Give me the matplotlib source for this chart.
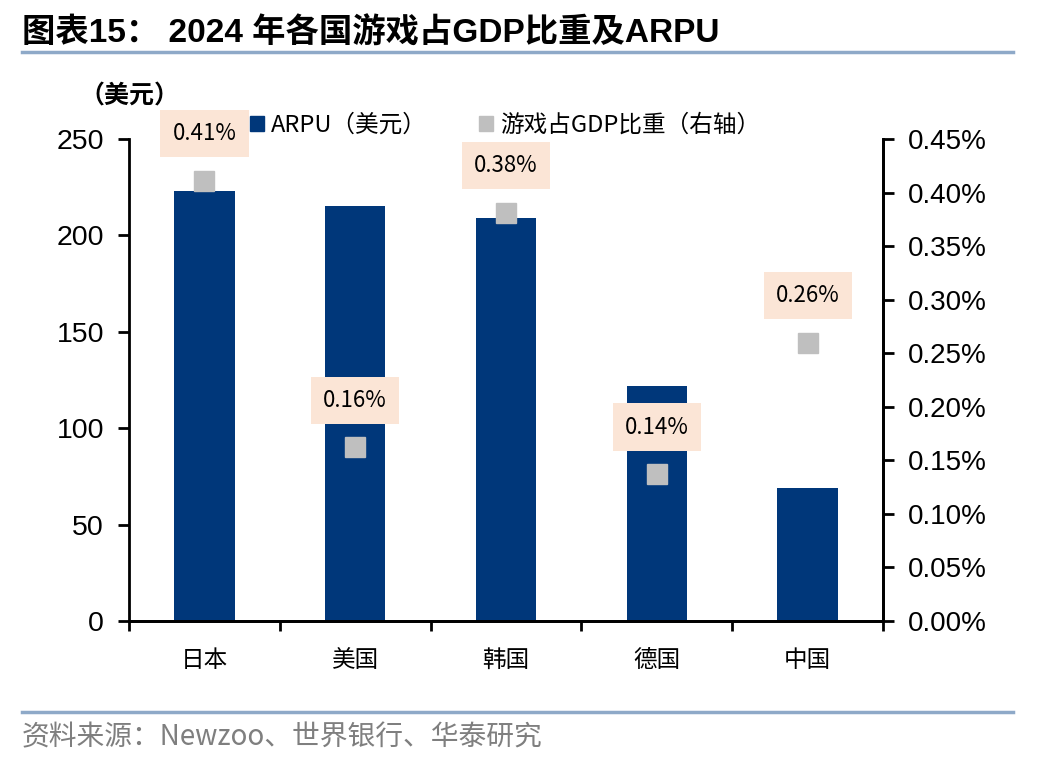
import matplotlib.pyplot as plt
from matplotlib.lines import Line2D
from matplotlib.patches import Patch

plt.rcParams['font.family'] = ['Liberation Sans', 'Noto Sans CJK SC', 'DejaVu Sans']

countries = ['日本', '美国', '韩国', '德国', '中国']
arpu = [223, 215, 209, 122, 69]
gdp_share = [0.411, 0.162, 0.381, 0.137, 0.260]

bar_color = '#00377A'
marker_color = '#BFBFBF'
line_color = '#8EA9C8'

fig = plt.figure(figsize=(10.48, 7.6), dpi=100)
ax = fig.add_axes([0.1231, 0.1829, 0.7195, 0.6342])
ax2 = ax.twinx()

x = list(range(len(countries)))
ax.bar(x, arpu, width=0.4, color=bar_color, zorder=2)
ax2.plot(x, gdp_share, linestyle='none', marker='s', markersize=15,
         color=marker_color, zorder=3)

for xi, v in zip(x, gdp_share):
    ax2.annotate('{:.2f}%'.format(v), (xi, v), xytext=(0, 34),
                 textcoords='offset points', ha='center', va='center',
                 fontsize=16, family=['Noto Sans CJK SC', 'DejaVu Sans'],
                 bbox=dict(boxstyle='square,pad=0.55', fc='#FBE5D6', ec='none'))

ax.set_xlim(-0.5, 4.5)
ax.set_ylim(0, 250)
ax2.set_ylim(0, 0.45)
ax.set_yticks([0, 50, 100, 150, 200, 250])
ax2.set_yticks([0, 0.05, 0.1, 0.15, 0.2, 0.25, 0.3, 0.35, 0.4, 0.45])
ax2.set_yticklabels(['{:.2f}%'.format(t) for t in ax2.get_yticks()])

ax.set_xticks(x)
ax.set_xticklabels(countries, family=['Noto Sans CJK SC'], fontsize=17)
ax.tick_params(axis='x', length=0, pad=20)
ax.set_xticks([i - 0.5 for i in range(6)], minor=True)
ax.tick_params(axis='x', which='minor', length=7, width=2, direction='out')
ax.tick_params(axis='y', labelsize=20.5, length=8, width=2, pad=10)
ax2.tick_params(axis='y', labelsize=20, length=8, width=2, pad=10)

for a in (ax, ax2):
    a.spines['top'].set_visible(False)
    for s in ('left', 'right', 'bottom'):
        a.spines[s].set_linewidth(2)
ax2.spines['left'].set_visible(False)

fig.text(0.076, 0.873, '（美元）', fontsize=18, fontweight='bold',
         family=['Noto Sans CJK SC'], va='center')

handles = [Patch(color=bar_color), Patch(color=marker_color)]
ax.legend(handles, ['ARPU（美元）', '游戏占GDP比重（右轴）'], ncol=2,
          loc='center left', bbox_to_anchor=(0.16, 1.028), frameon=False,
          prop={'family': ['Noto Sans CJK SC'], 'size': 17},
          handlelength=0.6, handleheight=0.6, handletextpad=0.3, columnspacing=2.2,
          borderaxespad=0, borderpad=0)

fig.text(0.021, 0.956, '图表15： 2024 年各国游戏占GDP比重及ARPU', fontsize=24,
         fontweight='bold', va='center')
fig.add_artist(Line2D([0.021, 0.967], [0.931, 0.931], color=line_color, lw=2.5))
fig.add_artist(Line2D([0.021, 0.967], [0.063, 0.063], color=line_color, lw=2.5))
fig.text(0.021, 0.030, '资料来源：Newzoo、世界银行、华泰研究', fontsize=20,
         color='#7F7F7F', va='center',
         family=['Noto Sans CJK SC'])

fig.savefig('out.png', dpi=100)
